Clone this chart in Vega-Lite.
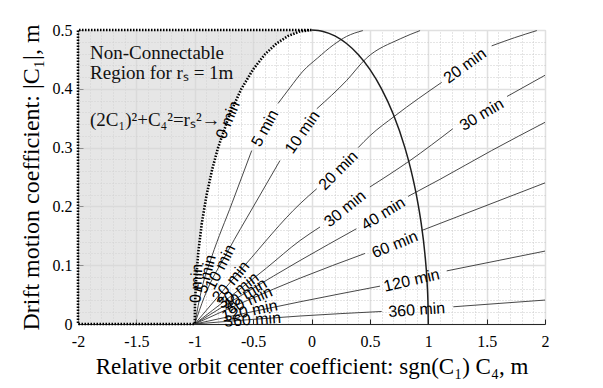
{
  "$schema": "https://vega.github.io/schema/vega-lite/v6.json",
  "width": 467,
  "height": 294,
  "autosize": {"type": "none"},
  "padding": {"left": 78, "top": 30, "right": 58, "bottom": 64},
  "background": "white",
  "config": {
    "view": {"stroke": "#d4d4d4", "strokeWidth": 1},
    "axis": {"labelFont": "Liberation Serif", "titleFont": "Liberation Serif", "labelColor": "black", "titleColor": "black", "titleFontWeight": "normal", "labelFlush": false}
  },
  "datasets": {
    "region": [
      {"y": 0, "x": -1}, {"y": 0.0316, "x": -0.998}, {"y": 0.0705, "x": -0.99}, {"y": 0.1216, "x": -0.97},
      {"y": 0.1706, "x": -0.94}, {"y": 0.2179, "x": -0.9}, {"y": 0.2634, "x": -0.85}, {"y": 0.3, "x": -0.8},
      {"y": 0.3571, "x": -0.7}, {"y": 0.4, "x": -0.6}, {"y": 0.433, "x": -0.5}, {"y": 0.4583, "x": -0.4},
      {"y": 0.477, "x": -0.3}, {"y": 0.4899, "x": -0.2}, {"y": 0.4975, "x": -0.1}, {"y": 0.5, "x": 0}
    ],
    "boundary": [
      {"i": 0, "x": 0, "y": 0.5}, {"i": 1, "x": -2, "y": 0.5}, {"i": 2, "x": -2, "y": 0}, {"i": 3, "x": -1, "y": 0},
      {"i": 4, "x": -0.998, "y": 0.0316}, {"i": 5, "x": -0.99, "y": 0.0705}, {"i": 6, "x": -0.97, "y": 0.1216},
      {"i": 7, "x": -0.94, "y": 0.1706}, {"i": 8, "x": -0.9, "y": 0.2179}, {"i": 9, "x": -0.85, "y": 0.2634},
      {"i": 10, "x": -0.8, "y": 0.3}, {"i": 11, "x": -0.7, "y": 0.3571}, {"i": 12, "x": -0.6, "y": 0.4},
      {"i": 13, "x": -0.5, "y": 0.433}, {"i": 14, "x": -0.4, "y": 0.4583}, {"i": 15, "x": -0.3, "y": 0.477},
      {"i": 16, "x": -0.2, "y": 0.4899}, {"i": 17, "x": -0.1, "y": 0.4975}, {"i": 18, "x": 0, "y": 0.5}
    ],
    "ellipse": [
      {"x": 0, "y": 0.5}, {"x": 0.1, "y": 0.4975}, {"x": 0.2, "y": 0.4899}, {"x": 0.3, "y": 0.477},
      {"x": 0.4, "y": 0.4583}, {"x": 0.5, "y": 0.433}, {"x": 0.6, "y": 0.4}, {"x": 0.7, "y": 0.3571},
      {"x": 0.8, "y": 0.3}, {"x": 0.85, "y": 0.2634}, {"x": 0.9, "y": 0.2179}, {"x": 0.94, "y": 0.1706},
      {"x": 0.97, "y": 0.1216}, {"x": 0.99, "y": 0.0705}, {"x": 0.998, "y": 0.0316}, {"x": 1, "y": 0}
    ],
    "curves": [
      {"s": "5a", "x": -1, "y": 0}, {"s": "5a", "x": -0.94, "y": 0.06}, {"s": "5a", "x": -0.855, "y": 0.114}, {"s": "5a", "x": -0.68, "y": 0.206}, {"s": "5a", "x": -0.512, "y": 0.295},
      {"s": "5b", "x": -0.287, "y": 0.375}, {"s": "5b", "x": -0.184, "y": 0.402}, {"s": "5b", "x": -0.073, "y": 0.43}, {"s": "5b", "x": 0.05, "y": 0.452}, {"s": "5b", "x": 0.19, "y": 0.475}, {"s": "5b", "x": 0.3, "y": 0.489}, {"s": "5b", "x": 0.44, "y": 0.499},
      {"s": "10a", "x": -1, "y": 0}, {"s": "10a", "x": -0.92, "y": 0.045}, {"s": "10a", "x": -0.713, "y": 0.125}, {"s": "10a", "x": -0.5, "y": 0.199}, {"s": "10a", "x": -0.27, "y": 0.278},
      {"s": "10b", "x": 0.045, "y": 0.366}, {"s": "10b", "x": 0.3, "y": 0.414}, {"s": "10b", "x": 0.47, "y": 0.452}, {"s": "10b", "x": 0.76, "y": 0.485}, {"s": "10b", "x": 0.93, "y": 0.499},
      {"s": "20a", "x": -1, "y": 0}, {"s": "20a", "x": -0.57, "y": 0.1}, {"s": "20a", "x": -0.098, "y": 0.2045}, {"s": "20a", "x": 0.045, "y": 0.23},
      {"s": "20b", "x": 0.4, "y": 0.3}, {"s": "20b", "x": 0.5, "y": 0.32}, {"s": "20b", "x": 0.715, "y": 0.354}, {"s": "20b", "x": 1.115, "y": 0.411},
      {"s": "20c", "x": 1.543, "y": 0.473}, {"s": "20c", "x": 1.74, "y": 0.487}, {"s": "20c", "x": 1.93, "y": 0.499},
      {"s": "30a", "x": -1, "y": 0}, {"s": "30a", "x": -0.384, "y": 0.0955}, {"s": "30a", "x": -0.098, "y": 0.142}, {"s": "30a", "x": 0.073, "y": 0.165},
      {"s": "30b", "x": 0.5, "y": 0.233}, {"s": "30b", "x": 0.844, "y": 0.278}, {"s": "30b", "x": 1.21, "y": 0.332},
      {"s": "30c", "x": 1.675, "y": 0.387}, {"s": "30c", "x": 2.0, "y": 0.423},
      {"s": "40a", "x": -1, "y": 0}, {"s": "40a", "x": -0.098, "y": 0.108}, {"s": "40a", "x": 0.385, "y": 0.162},
      {"s": "40b", "x": 0.827, "y": 0.217}, {"s": "40b", "x": 1.1, "y": 0.246}, {"s": "40b", "x": 1.543, "y": 0.295}, {"s": "40b", "x": 2.0, "y": 0.343},
      {"s": "60a", "x": -1, "y": 0}, {"s": "60a", "x": -0.098, "y": 0.078}, {"s": "60a", "x": 0.458, "y": 0.12},
      {"s": "60b", "x": 0.944, "y": 0.159}, {"s": "60b", "x": 2.0, "y": 0.24},
      {"s": "120a", "x": -1, "y": 0}, {"s": "120a", "x": -0.098, "y": 0.0378}, {"s": "120a", "x": 0.587, "y": 0.0644},
      {"s": "120b", "x": 1.158, "y": 0.0903}, {"s": "120b", "x": 2.0, "y": 0.124},
      {"s": "360a", "x": -1, "y": 0}, {"s": "360a", "x": -0.098, "y": 0.0136}, {"s": "360a", "x": 0.601, "y": 0.0213},
      {"s": "360b", "x": 1.215, "y": 0.0293}, {"s": "360b", "x": 2.0, "y": 0.0407}
    ],
    "notes": [
      {"x": -1.897, "y": 0.451, "text": "Non-Connectable"},
      {"x": -1.897, "y": 0.4164, "text": "Region for rₛ = 1m"},
      {"x": -1.897, "y": 0.337, "text": "(2C₁)²+C₄²=rₛ²→"}
    ],
    "labels": [
      {"id": "m0", "text": "0 min", "x": -0.715, "y": 0.347},
      {"id": "m5", "text": "5 min", "x": -0.398, "y": 0.333},
      {"id": "m10", "text": "10 min", "x": -0.077, "y": 0.326},
      {"id": "m20a", "text": "20 min", "x": 0.23, "y": 0.261},
      {"id": "m20b", "text": "20 min", "x": 1.315, "y": 0.439},
      {"id": "m30a", "text": "30 min", "x": 0.287, "y": 0.196},
      {"id": "m30b", "text": "30 min", "x": 1.458, "y": 0.356},
      {"id": "m40", "text": "40 min", "x": 0.615, "y": 0.1876},
      {"id": "m60", "text": "60 min", "x": 0.715, "y": 0.135},
      {"id": "m120", "text": "120 min", "x": 0.858, "y": 0.074},
      {"id": "m360", "text": "360 min", "x": 0.901, "y": 0.0237},
      {"id": "c0", "text": "0 min", "x": -0.985, "y": 0.069},
      {"id": "c5", "text": "5 min", "x": -0.9, "y": 0.085},
      {"id": "c10", "text": "10 min", "x": -0.78, "y": 0.097},
      {"id": "c20", "text": "20 min", "x": -0.69, "y": 0.072},
      {"id": "c30", "text": "30 min", "x": -0.63, "y": 0.057},
      {"id": "c40", "text": "40 min", "x": -0.57, "y": 0.05},
      {"id": "c60", "text": "60 min", "x": -0.53, "y": 0.04},
      {"id": "c120", "text": "120 min", "x": -0.53, "y": 0.022},
      {"id": "c360", "text": "360 min", "x": -0.505, "y": 0.007}
    ]
  },
  "resolve": {"axis": {"x": "independent", "y": "independent"}},
  "layer": [
    {
      "data": {"name": "region"},
      "mark": {"type": "point", "opacity": 0},
      "encoding": {
        "y": {
          "field": "y", "type": "quantitative",
          "scale": {"domain": [0, 0.5], "nice": false},
          "axis": {
            "orient": "right", "title": null, "labels": false, "ticks": false, "domain": false,
            "values": [0.02, 0.04, 0.06, 0.08, 0.12, 0.14, 0.16, 0.18, 0.22, 0.24, 0.26, 0.28, 0.32, 0.34, 0.36, 0.38, 0.42, 0.44, 0.46, 0.48],
            "grid": true, "gridColor": "#cbcbcb", "gridDash": [1, 2], "gridWidth": 1
          }
        },
        "x": {
          "field": "x", "type": "quantitative",
          "scale": {"domain": [-2, 2], "nice": false},
          "axis": {
            "orient": "top", "title": null, "labels": false, "ticks": false, "domain": false,
            "values": [-1.9, -1.8, -1.7, -1.6, -1.4, -1.3, -1.2, -1.1, -0.9, -0.8, -0.7, -0.6, -0.4, -0.3, -0.2, -0.1, 0.1, 0.2, 0.3, 0.4, 0.6, 0.7, 0.8, 0.9, 1.1, 1.2, 1.3, 1.4, 1.6, 1.7, 1.8, 1.9],
            "grid": true, "gridColor": "#cbcbcb", "gridDash": [1, 2], "gridWidth": 1
          }
        }
      }
    },
    {
      "layer": [
        {
          "data": {"name": "region"},
          "mark": {"type": "area", "orient": "horizontal", "color": "#d6d6d6", "opacity": 0.6},
          "encoding": {
            "y": {
              "field": "y", "type": "quantitative",
              "axis": {
                "orient": "left",
                "title": "Drift motion coefficient: |C₁|, m",
                "titleFontSize": 24, "titlePadding": 9,
                "labelFontSize": 16, "labelPadding": 11,
                "values": [0, 0.1, 0.2, 0.3, 0.4, 0.5],
                "labelExpr": "'' + datum.value",
                "tickSize": -5, "tickColor": "#262626",
                "grid": true, "gridColor": "#e0e0e0", "gridWidth": 1.5,
                "domainColor": "#262626"
              }
            },
            "x": {
              "field": "x", "type": "quantitative",
              "axis": {
                "orient": "bottom",
                "title": "Relative orbit center coefficient: sgn(C₁) C₄, m",
                "titleFontSize": 23, "titlePadding": 6,
                "labelFontSize": 16, "labelPadding": 14,
                "values": [-2, -1.5, -1, -0.5, 0, 0.5, 1, 1.5, 2],
                "labelExpr": "'' + datum.value",
                "tickSize": -5, "tickColor": "#262626",
                "grid": true, "gridColor": "#e0e0e0", "gridWidth": 1.5,
                "domainColor": "#262626"
              }
            },
            "x2": {"datum": -2}
          }
        },
        {
          "data": {"name": "curves"},
          "mark": {"type": "line", "interpolate": "monotone", "color": "#333333", "strokeWidth": 0.9},
          "encoding": {
            "x": {"field": "x", "type": "quantitative"},
            "y": {"field": "y", "type": "quantitative"},
            "detail": {"field": "s"}
          }
        },
        {
          "data": {"name": "ellipse"},
          "mark": {"type": "line", "interpolate": "monotone", "color": "#1e1e1e", "strokeWidth": 1.5},
          "encoding": {
            "x": {"field": "x", "type": "quantitative"},
            "y": {"field": "y", "type": "quantitative"}
          }
        },
        {
          "data": {"name": "boundary"},
          "mark": {"type": "line", "color": "black", "strokeWidth": 2.6, "strokeDash": [1.5, 1.5]},
          "encoding": {
            "x": {"field": "x", "type": "quantitative"},
            "y": {"field": "y", "type": "quantitative"},
            "order": {"field": "i", "type": "quantitative"}
          }
        },
        {
          "data": {"name": "notes"},
          "mark": {"type": "text", "font": "Liberation Serif", "fontSize": 19, "align": "left", "baseline": "alphabetic", "color": "#111111"},
          "encoding": {
            "x": {"field": "x", "type": "quantitative"},
            "y": {"field": "y", "type": "quantitative"},
            "text": {"field": "text"}
          }
        },
        {"data": {"name": "labels"}, "transform": [{"filter": "datum.id == 'm0'"}], "mark": {"type": "text", "angle": 292, "font": "Liberation Sans", "fontSize": 16, "color": "black"}, "encoding": {"x": {"field": "x", "type": "quantitative"}, "y": {"field": "y", "type": "quantitative"}, "text": {"field": "text"}}},
        {"data": {"name": "labels"}, "transform": [{"filter": "datum.id == 'm5'"}], "mark": {"type": "text", "angle": 299, "font": "Liberation Sans", "fontSize": 16, "color": "black"}, "encoding": {"x": {"field": "x", "type": "quantitative"}, "y": {"field": "y", "type": "quantitative"}, "text": {"field": "text"}}},
        {"data": {"name": "labels"}, "transform": [{"filter": "datum.id == 'm10'"}], "mark": {"type": "text", "angle": 305, "font": "Liberation Sans", "fontSize": 16, "color": "black"}, "encoding": {"x": {"field": "x", "type": "quantitative"}, "y": {"field": "y", "type": "quantitative"}, "text": {"field": "text"}}},
        {"data": {"name": "labels"}, "transform": [{"filter": "datum.id == 'm20a'"}], "mark": {"type": "text", "angle": 315, "font": "Liberation Sans", "fontSize": 16, "color": "black"}, "encoding": {"x": {"field": "x", "type": "quantitative"}, "y": {"field": "y", "type": "quantitative"}, "text": {"field": "text"}}},
        {"data": {"name": "labels"}, "transform": [{"filter": "datum.id == 'm20b'"}], "mark": {"type": "text", "angle": 324, "font": "Liberation Sans", "fontSize": 16, "color": "black"}, "encoding": {"x": {"field": "x", "type": "quantitative"}, "y": {"field": "y", "type": "quantitative"}, "text": {"field": "text"}}},
        {"data": {"name": "labels"}, "transform": [{"filter": "datum.id == 'm30a'"}], "mark": {"type": "text", "angle": 321, "font": "Liberation Sans", "fontSize": 16, "color": "black"}, "encoding": {"x": {"field": "x", "type": "quantitative"}, "y": {"field": "y", "type": "quantitative"}, "text": {"field": "text"}}},
        {"data": {"name": "labels"}, "transform": [{"filter": "datum.id == 'm30b'"}], "mark": {"type": "text", "angle": 329, "font": "Liberation Sans", "fontSize": 16, "color": "black"}, "encoding": {"x": {"field": "x", "type": "quantitative"}, "y": {"field": "y", "type": "quantitative"}, "text": {"field": "text"}}},
        {"data": {"name": "labels"}, "transform": [{"filter": "datum.id == 'm40'"}], "mark": {"type": "text", "angle": 328, "font": "Liberation Sans", "fontSize": 16, "color": "black"}, "encoding": {"x": {"field": "x", "type": "quantitative"}, "y": {"field": "y", "type": "quantitative"}, "text": {"field": "text"}}},
        {"data": {"name": "labels"}, "transform": [{"filter": "datum.id == 'm60'"}], "mark": {"type": "text", "angle": 338, "font": "Liberation Sans", "fontSize": 16, "color": "black"}, "encoding": {"x": {"field": "x", "type": "quantitative"}, "y": {"field": "y", "type": "quantitative"}, "text": {"field": "text"}}},
        {"data": {"name": "labels"}, "transform": [{"filter": "datum.id == 'm120'"}], "mark": {"type": "text", "angle": 347, "font": "Liberation Sans", "fontSize": 16, "color": "black"}, "encoding": {"x": {"field": "x", "type": "quantitative"}, "y": {"field": "y", "type": "quantitative"}, "text": {"field": "text"}}},
        {"data": {"name": "labels"}, "transform": [{"filter": "datum.id == 'm360'"}], "mark": {"type": "text", "angle": 356, "font": "Liberation Sans", "fontSize": 16, "color": "black"}, "encoding": {"x": {"field": "x", "type": "quantitative"}, "y": {"field": "y", "type": "quantitative"}, "text": {"field": "text"}}},
        {"data": {"name": "labels"}, "transform": [{"filter": "datum.id == 'c0'"}], "mark": {"type": "text", "angle": 273, "font": "Liberation Sans", "fontSize": 16, "color": "black"}, "encoding": {"x": {"field": "x", "type": "quantitative"}, "y": {"field": "y", "type": "quantitative"}, "text": {"field": "text"}}},
        {"data": {"name": "labels"}, "transform": [{"filter": "datum.id == 'c5'"}], "mark": {"type": "text", "angle": 284, "font": "Liberation Sans", "fontSize": 16, "color": "black"}, "encoding": {"x": {"field": "x", "type": "quantitative"}, "y": {"field": "y", "type": "quantitative"}, "text": {"field": "text"}}},
        {"data": {"name": "labels"}, "transform": [{"filter": "datum.id == 'c10'"}], "mark": {"type": "text", "angle": 297, "font": "Liberation Sans", "fontSize": 16, "color": "black"}, "encoding": {"x": {"field": "x", "type": "quantitative"}, "y": {"field": "y", "type": "quantitative"}, "text": {"field": "text"}}},
        {"data": {"name": "labels"}, "transform": [{"filter": "datum.id == 'c20'"}], "mark": {"type": "text", "angle": 310, "font": "Liberation Sans", "fontSize": 16, "color": "black"}, "encoding": {"x": {"field": "x", "type": "quantitative"}, "y": {"field": "y", "type": "quantitative"}, "text": {"field": "text"}}},
        {"data": {"name": "labels"}, "transform": [{"filter": "datum.id == 'c30'"}], "mark": {"type": "text", "angle": 322, "font": "Liberation Sans", "fontSize": 16, "color": "black"}, "encoding": {"x": {"field": "x", "type": "quantitative"}, "y": {"field": "y", "type": "quantitative"}, "text": {"field": "text"}}},
        {"data": {"name": "labels"}, "transform": [{"filter": "datum.id == 'c40'"}], "mark": {"type": "text", "angle": 329, "font": "Liberation Sans", "fontSize": 16, "color": "black"}, "encoding": {"x": {"field": "x", "type": "quantitative"}, "y": {"field": "y", "type": "quantitative"}, "text": {"field": "text"}}},
        {"data": {"name": "labels"}, "transform": [{"filter": "datum.id == 'c60'"}], "mark": {"type": "text", "angle": 336, "font": "Liberation Sans", "fontSize": 16, "color": "black"}, "encoding": {"x": {"field": "x", "type": "quantitative"}, "y": {"field": "y", "type": "quantitative"}, "text": {"field": "text"}}},
        {"data": {"name": "labels"}, "transform": [{"filter": "datum.id == 'c120'"}], "mark": {"type": "text", "angle": 348, "font": "Liberation Sans", "fontSize": 16, "color": "black"}, "encoding": {"x": {"field": "x", "type": "quantitative"}, "y": {"field": "y", "type": "quantitative"}, "text": {"field": "text"}}},
        {"data": {"name": "labels"}, "transform": [{"filter": "datum.id == 'c360'"}], "mark": {"type": "text", "angle": 356, "font": "Liberation Sans", "fontSize": 16, "color": "black"}, "encoding": {"x": {"field": "x", "type": "quantitative"}, "y": {"field": "y", "type": "quantitative"}, "text": {"field": "text"}}}
      ]
    }
  ]
}
